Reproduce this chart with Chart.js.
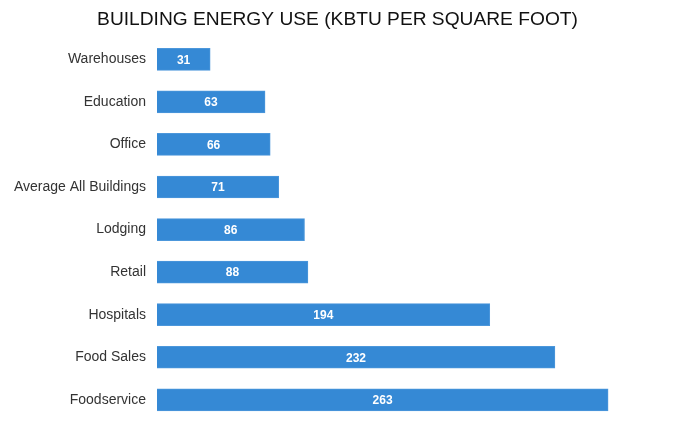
<!DOCTYPE html>
<html>
<head>
<meta charset="utf-8">
<script src="https://cdn.jsdelivr.net/npm/chart.js"></script>
<style>
  html, body { margin: 0; padding: 0; background: #fff; }
</style>
</head>
<body>
<canvas id="energyChart" width="675" height="428"></canvas>
<script>
  const categories = ['Warehouses', 'Education', 'Office', 'Average All Buildings', 'Lodging', 'Retail', 'Hospitals', 'Food Sales', 'Foodservice'];
  const kbtuValues = [31, 63, 66, 71, 86, 88, 194, 232, 263];

  // white value labels in the middle of each bar
  const barLabels = {
    id: 'barLabels',
    afterDatasetsDraw(chart) {
      const ctx = chart.ctx;
      const meta = chart.getDatasetMeta(0);
      ctx.save();
      ctx.fillStyle = '#fff';
      ctx.font = 'bold 12px "Liberation Sans", Arial, sans-serif';
      ctx.textAlign = 'center';
      ctx.textBaseline = 'middle';
      meta.data.forEach((bar, i) => {
        const mid = (bar.x + bar.base) / 2;
        ctx.fillText(kbtuValues[i], mid, bar.y + 1);
      });
      ctx.restore();
    },
  };

  var ctxEnergy = document.getElementById('energyChart').getContext('2d');
  var energyChart = new Chart(ctxEnergy, {
    type: 'bar',
    data: {
      labels: categories,
      datasets: [
        {
          label: 'kBTU per square foot',
          data: kbtuValues,
          backgroundColor: '#3589d5',
          borderColor: '#4c97db',
          borderWidth: 1,
          barThickness: 22,
        },
      ],
    },
    options: {
      indexAxis: 'y',
      responsive: false,
      animation: false,
      layout: {
        padding: { top: 0, right: 0, bottom: 0, left: 0 },
      },
      plugins: {
        legend: { display: false },
        tooltip: { enabled: false },
        title: {
          display: true,
          text: 'BUILDING ENERGY USE (KBTU PER SQUARE FOOT)',
          color: '#111',
          font: { family: '"Liberation Sans", Arial, sans-serif', size: 19.2, weight: 'normal' },
          padding: { top: 8, bottom: 7 },
        },
      },
      scales: {
        x: {
          min: 0,
          max: 302,
          display: false,
        },
        y: {
          grid: { display: false },
          border: { display: false },
          ticks: {
            color: '#333',
            padding: 3,
            font: { family: '"Liberation Sans", Arial, sans-serif', size: 14, lineHeight: 0.56 },
          },
          afterFit(scale) {
            scale.width = 157;
          },
        },
      },
    },
    plugins: [barLabels],
  });
</script>
</body>
</html>
